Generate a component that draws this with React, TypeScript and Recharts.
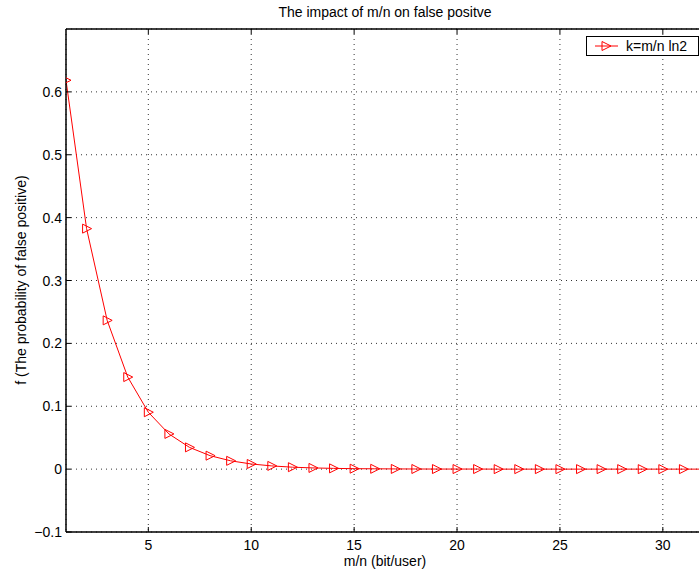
import { LineChart, Line, XAxis, YAxis, CartesianGrid } from 'recharts';

// m/n (bits per user) against false-positive rate with k = (m/n) ln2
const ratios = [
  1, 2, 3, 4, 5, 6, 7, 8, 9, 10, 11, 12, 13, 14, 15, 16,
  17, 18, 19, 20, 21, 22, 23, 24, 25, 26, 27, 28, 29, 30, 31, 32,
];
const falsePositive = [
  0.6185, 0.3825, 0.2366, 0.1464, 0.0905, 0.056, 0.0346, 0.0214,
  0.0132, 0.0082, 0.0051, 0.0031, 0.0019, 0.0012, 0.0007, 0.0005,
  0.0003, 0.0002, 0.0001, 0.0001, 0.0001, 0, 0, 0,
  0, 0, 0, 0, 0, 0, 0, 0,
];
const xTicks = [5, 10, 15, 20, 25, 30];
const yTicks = [-0.1, 0, 0.1, 0.2, 0.3, 0.4, 0.5, 0.6, 0.7];
const seriesName = 'k=m/n ln2';

const data = ratios.map((r, i) => ({ r, f: falsePositive[i] }));

const RED = '#ff0000';
const FONT = '"Liberation Sans", Arial, Helvetica, sans-serif';
const FS = 14;
const TICK_LEN = 5;

function Triangle({ cx, cy }: any) {
  if (cx == null || cy == null) return null;
  return (
    <polygon
      points={`${cx - 4},${cy - 4.5} ${cx - 4},${cy + 4.5} ${cx + 5},${cy}`}
      fill="none"
      stroke={RED}
      strokeWidth={1}
    />
  );
}

// bottom axis: label below, tick mark pointing into the plot
function BottomTick({ x, y, payload }: any) {
  const axisY = y - 2;
  return (
    <g>
      <line x1={x} x2={x} y1={axisY} y2={axisY - TICK_LEN} stroke="#000" />
      <text x={x} y={axisY + 18} textAnchor="middle" fontSize={FS} fontFamily={FONT} fill="#000">
        {payload.value}
      </text>
    </g>
  );
}

function TopTick({ x, y }: any) {
  const axisY = y + 2;
  return <line x1={x} x2={x} y1={axisY} y2={axisY + TICK_LEN} stroke="#000" />;
}

function LeftTick({ x, y, payload }: any) {
  const axisX = x + 2;
  const v = payload.value;
  if (v > 0.65) return null;
  const label = v < 0 ? '\u2212' + Math.abs(v).toString() : Number(v.toFixed(1)).toString();
  return (
    <g>
      <line x1={axisX} x2={axisX + TICK_LEN} y1={y} y2={y} stroke="#000" />
      <text x={axisX - 4} y={y + 5} textAnchor="end" fontSize={FS} fontFamily={FONT} fill="#000">
        {label}
      </text>
    </g>
  );
}

function LegendBox() {
  return (
    <div
      style={{
        position: 'absolute',
        left: 586,
        top: 36,
        width: 113,
        height: 20,
        border: '1px solid #000',
        background: '#fff',
        display: 'flex',
        alignItems: 'center',
        fontFamily: FONT,
        fontSize: FS,
        boxSizing: 'border-box',
      }}
    >
      <svg width={32} height={18}>
        <line x1={8} x2={31} y1={9} y2={9} stroke={RED} />
        <Triangle cx={19} cy={9} />
      </svg>
      <span style={{ marginLeft: 7 }}>{seriesName}</span>
    </div>
  );
}

export default function App() {
  return (
    <div
      style={{
        position: 'fixed',
        left: 0,
        top: 0,
        width: 699,
        height: 571,
        overflow: 'hidden',
        background: '#fff',
      }}
    >
      <svg width={699} height={571} style={{ position: 'absolute', left: 0, top: 0 }}>
        <text x={385} y={17} textAnchor="middle" fontSize={FS} fontFamily={FONT}>
          The impact of m/n on false positve
        </text>
        <text x={385} y={566} textAnchor="middle" fontSize={FS} fontFamily={FONT}>
          m/n (bit/user)
        </text>
        <text
          x={26}
          y={280}
          textAnchor="middle"
          fontSize={FS}
          fontFamily={FONT}
          transform="rotate(-90 26 280)"
        >
          f (The probability of false positive)
        </text>
      </svg>
      <div style={{ position: 'absolute', left: 0, top: 0 }}>
        <LineChart
          width={740}
          height={571}
          data={data}
          margin={{ top: 24, right: 36, bottom: 9, left: 16 }}
        >
          <CartesianGrid
            xAxisId="bottom"
            stroke="#000"
            strokeDasharray="1 4"
            strokeOpacity={0.8}
          />
          <XAxis
            xAxisId="bottom"
            dataKey="r"
            type="number"
            domain={[1, 32]}
            ticks={xTicks}
            interval={0}
            height={30}
            tickSize={0}
            tickMargin={2}
            tickLine={false}
            axisLine={{ stroke: '#000', strokeWidth: 1.5 }}
            tick={<BottomTick />}
            allowDataOverflow
          />
          <XAxis
            xAxisId="top"
            orientation="top"
            dataKey="r"
            type="number"
            domain={[1, 32]}
            ticks={xTicks}
            interval={0}
            height={5}
            tickSize={0}
            tickMargin={2}
            tickLine={false}
            axisLine={{ stroke: '#000', strokeWidth: 1.5 }}
            tick={<TopTick />}
            allowDataOverflow
          />
          <YAxis
            type="number"
            domain={[-0.1, 0.7]}
            ticks={yTicks}
            interval={0}
            width={50}
            tickSize={0}
            tickMargin={2}
            tickLine={false}
            axisLine={{ stroke: '#000', strokeWidth: 1.5 }}
            tick={<LeftTick />}
            allowDataOverflow
          />
          <Line
            xAxisId="bottom"
            dataKey="f"
            name={seriesName}
            type="linear"
            stroke={RED}
            strokeWidth={1}
            dot={<Triangle />}
            activeDot={false}
            isAnimationActive={false}
          />
        </LineChart>
      </div>
      <LegendBox />
    </div>
  );
}
